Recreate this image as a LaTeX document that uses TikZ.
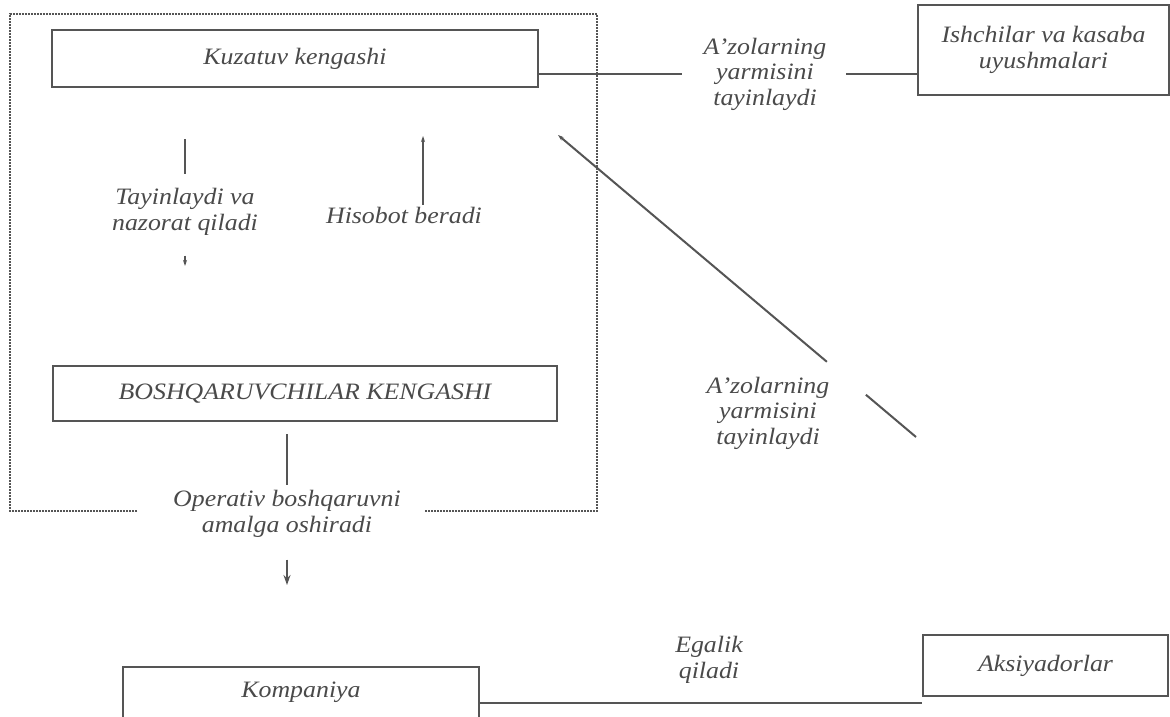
\documentclass[tikz,border=0pt]{standalone}
\usepackage{fontspec}
\setmainfont{Liberation Serif}[FakeStretch=1.1]
\usetikzlibrary{arrows.meta,calc}
\definecolor{ink}{HTML}{4A4A4A}
\definecolor{lineink}{HTML}{555555}
\begin{document}
\begin{tikzpicture}[x=1pt,y=-1pt,
  every node/.style={font=\fontsize{23.5}{25.5}\selectfont\itshape, text=ink},
  box/.style={draw=lineink, line width=2pt, inner sep=0pt, align=center},
  lbl/.style={inner sep=0pt, align=center},
  conn/.style={draw=lineink, line width=2pt},
  thinconn/.style={draw=lineink, line width=1.5pt},
  frame/.style={draw=lineink, line width=1.6pt, dash pattern=on 1.6pt off 1.4pt},
  tip/.style={-{Stealth[length=6pt,width=4pt]}},
  bigtip/.style={-{Stealth[length=10pt,width=7pt]}}]
\useasboundingbox (0,0) rectangle (1170,717);
\fill[white] (0,0) rectangle (1170,717);

% boxes
\node[box, minimum width=486pt, minimum height=57pt] (kuz) at (295,58.5) {Kuzatuv kengashi};
\node[box, minimum width=251pt, minimum height=90pt] (ish) at (1043.5,50) {Ishchilar va kasaba\\uyushmalari};
\node[box, minimum width=504pt, minimum height=55pt] (bos) at (305,393.5) {BOSHQARUVCHILAR KENGASHI};
\node[box, minimum width=356pt, text height=30pt, text depth=42pt] (komp) at (301,703) {Kompaniya};
\node[box, minimum width=245pt, minimum height=61pt] (aks) at (1045.5,665.5) {Aksiyadorlar};

% labels
\node[lbl] (azo1) at (765,74) {A'zolarning\\yarmisini\\tayinlaydi};
\node[lbl] (tay) at (185,212) {Tayinlaydi va\\nazorat qiladi};
\node[lbl] (his) at (404,215) {Hisobot beradi};
\node[lbl] (azo2) at (768,413) {A'zolarning\\yarmisini\\tayinlaydi};
\node[lbl] (ope) at (287,514) {Operativ boshqaruvni\\amalga oshiradi};
\node[lbl] (ega) at (709,660) {Egalik\\qiladi};

% dotted frame
\draw[frame] (137,511) -- (10,511) -- (10,14) -- (597,14) -- (597,511) -- (425,511);

% connectors
\draw[conn, shorten >=22pt] (kuz.east |- azo1) -- (azo1.west);
\draw[conn, shorten <=20pt] (azo1.east) -- (azo1.east -| ish.west);

\draw[thinconn, shorten <=51pt, shorten >=14pt] (kuz.south -| tay) -- (tay.north);
\draw[thinconn, tip, shorten <=20pt, shorten >=99pt] (tay.south) -- (tay.south |- bos.north);

\draw[thinconn, tip, shorten <=2pt, shorten >=48pt] ([xshift=19pt]his.north) -- ([xshift=19pt]his.north |- kuz.south);

\coordinate (dEnd) at (916,437);
\coordinate (dTip) at (558,135);
\draw[conn] (dEnd) -- ($(dEnd)!0.14!(dTip)$);
\draw[conn, tip] ($(dEnd)!0.249!(dTip)$) -- (dTip);

\draw[conn, shorten <=12pt, shorten >=5pt] (bos.south -| ope.north) -- (ope.north);
\draw[conn, bigtip, shorten <=22pt, shorten >=81pt] (ope.south) -- (ope.south |- komp.north);

\draw[conn] (komp.east) -- (komp.east -| aks.west);
\end{tikzpicture}
\end{document}
